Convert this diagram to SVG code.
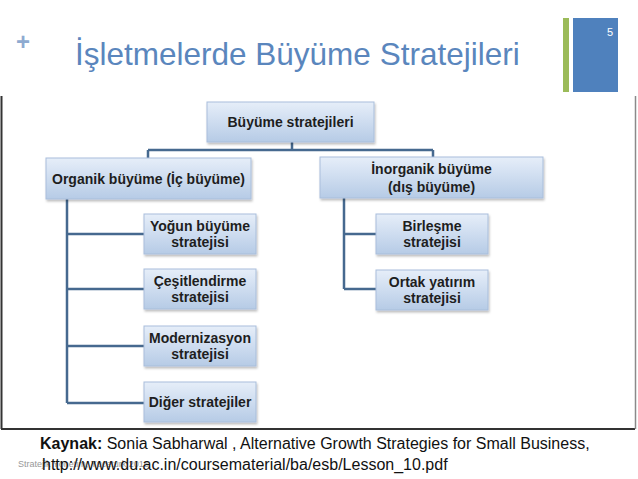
<svg xmlns="http://www.w3.org/2000/svg" width="638" height="479" viewBox="0 0 638 479">
<defs>
<linearGradient id="bg" x1="0" y1="0" x2="0" y2="1">
<stop offset="0" stop-color="#e6eef9"/>
<stop offset="1" stop-color="#b6cbe6"/>
</linearGradient>
<filter id="sh" x="-10%" y="-10%" width="125%" height="135%">
<feDropShadow dx="1" dy="2" stdDeviation="1.2" flood-color="#000" flood-opacity="0.25"/>
</filter>
</defs>
<style>
.box{fill:url(#bg);stroke:#a9bedb;stroke-width:1;filter:url(#sh)}
.lbl{font-family:"Liberation Sans",Arial,sans-serif;font-weight:bold;font-size:14px;fill:#1e1e1e;text-anchor:middle}
.con{fill:none;stroke:#46698f;stroke-width:2.5}
</style>
<rect width="638" height="479" fill="#fff"/>
<text x="16" y="50" font-family="Liberation Sans,Arial,sans-serif" font-weight="bold" font-size="24" fill="#8eaad0">+</text>
<text x="75" y="65" font-family="Liberation Sans,Arial,sans-serif" font-size="31.5" fill="#5a86bd">İşletmelerde Büyüme Stratejileri</text>
<rect x="563" y="18" width="6" height="74" fill="#9bbb59"/>
<rect x="573" y="18" width="45" height="74" fill="#4f81bd"/>
<text x="610" y="36" font-family="Liberation Sans,Arial,sans-serif" font-size="11" fill="#fff" text-anchor="middle">5</text>
<g id="frame">
<line x1="1.5" y1="96" x2="1.5" y2="429" stroke="#333" stroke-width="2"/>
<line x1="1" y1="429" x2="635" y2="429" stroke="#333" stroke-width="2"/>
<line x1="635.5" y1="96" x2="635.5" y2="429" stroke="#8a8a8a" stroke-width="1.5"/>
</g>
<g id="connectors">
<path class="con" d="M292 142 V150 M148 150 H433 M148 150 V158 M433 150 V157"/>
<path class="con" d="M67 199 V403 M67 234 H144 M67 289 H144 M67 346 H144 M67 403 H144"/>
<path class="con" d="M344 198 V289 M344 234 H376 M344 289 H376"/>
</g>
<g id="n-root"><rect class="box" x="207" y="102" width="167" height="40"/><text class="lbl" x="290.5" y="127">Büyüme stratejileri</text></g>
<g id="n-organik"><rect class="box" x="46" y="158" width="205" height="41"/><text class="lbl" x="148.5" y="183.5">Organik büyüme (İç büyüme)</text></g>
<g id="n-inorganik"><rect class="box" x="320" y="157" width="223" height="41"/><text class="lbl" x="431.5" y="174">İnorganik büyüme</text><text class="lbl" x="431.5" y="192">(dış büyüme)</text></g>
<g id="n-yogun"><rect class="box" x="144" y="214" width="112" height="40"/><text class="lbl" x="200" y="231">Yoğun büyüme</text><text class="lbl" x="200" y="247">stratejisi</text></g>
<g id="n-cesit"><rect class="box" x="144" y="269" width="112" height="40"/><text class="lbl" x="200" y="286">Çeşitlendirme</text><text class="lbl" x="200" y="302">stratejisi</text></g>
<g id="n-modern"><rect class="box" x="144" y="326" width="112" height="40"/><text class="lbl" x="200" y="343">Modernizasyon</text><text class="lbl" x="200" y="359">stratejisi</text></g>
<g id="n-diger"><rect class="box" x="144" y="382" width="112" height="40"/><text class="lbl" x="200" y="407">Diğer stratejiler</text></g>
<g id="n-birlesme"><rect class="box" x="376" y="214" width="112" height="40"/><text class="lbl" x="432" y="231">Birleşme</text><text class="lbl" x="432" y="247">stratejisi</text></g>
<g id="n-ortak"><rect class="box" x="376" y="270" width="112" height="40"/><text class="lbl" x="432" y="287">Ortak yatırım</text><text class="lbl" x="432" y="303">stratejisi</text></g>
<text x="18" y="467" font-family="Liberation Sans,Arial,sans-serif" font-size="9" fill="#999">Stratejik Yönetim, Yücetürk 2016</text>
<text x="40" y="449" font-family="Liberation Sans,Arial,sans-serif" font-size="16" fill="#111"><tspan font-weight="bold">Kaynak:</tspan> Sonia Sabharwal , Alternative Growth Strategies for Small Business,</text>
<text x="42" y="470" font-family="Liberation Sans,Arial,sans-serif" font-size="16" fill="#111">http://www.du.ac.in/coursematerial/ba/esb/Lesson_10.pdf</text>
</svg>
